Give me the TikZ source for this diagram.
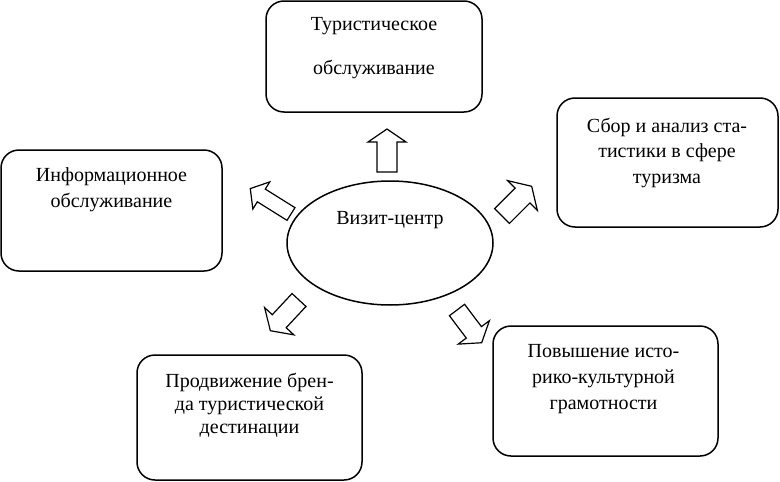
\documentclass[tikz,border=0pt]{standalone}
\usepackage{fontspec}
\setmainfont{Liberation Serif}
\usetikzlibrary{shapes.geometric}
\newcommand\blockarrow[6]{%
  \draw[blockline, shift={(#1,#2)}, rotate=#3]
    (0,{-#5}) -- ({#4-13},{-#5}) -- ({#4-13},{-#6}) -- (#4,0)
    -- ({#4-13},{#6}) -- ({#4-13},{#5}) -- (0,{#5}) -- cycle;}
\begin{document}
\begin{tikzpicture}[x=1pt,y=-1pt,
  box/.style={draw, line width=1.5pt, rounded corners=18pt, inner sep=0pt},
  oval/.style={draw, ellipse, line width=1.5pt, inner sep=0pt},
  blockline/.style={draw, line width=1.2pt, line join=miter, fill=white},
  txt/.style={align=center, font=\fontsize{20}{25.5}\selectfont, inner sep=0pt}]
\useasboundingbox (0,0) rectangle (780,482);
% boxes
\node[box, minimum width=216pt, minimum height=111pt] (tour) at (374,56.5) {};
\node[box, minimum width=221pt, minimum height=121pt] (info) at (111.5,210.5) {};
\node[box, minimum width=221pt, minimum height=129pt] (stat) at (667.5,162.5) {};
\node[box, minimum width=225pt, minimum height=125pt] (brand) at (249.5,417.5) {};
\node[box, minimum width=225pt, minimum height=130pt] (hist) at (605.5,391) {};
\node[oval, minimum width=206pt, minimum height=124pt] (vc) at (390,243) {};
% texts
\node[txt, font=\fontsize{20}{44}\selectfont] (tourtxt) at (374,48) {Туристическое\\обслуживание};
\node[txt, font=\fontsize{20}{26}\selectfont] (infotxt) at (111.5,190) {Информационное\\обслуживание};
\node[txt] (stattxt) at (667,152.5) {Сбор и анализ ста-\\тистики в сфере\\туризма};
\node[txt, font=\fontsize{20}{23}\selectfont] (brandtxt) at (249.5,405) {Продвижение брен-\\да туристической\\дестинации};
\node[txt, font=\fontsize{20}{26}\selectfont] (histtxt) at (603.5,379) {Повышение исто-\\рико-культурной\\грамотности};
\node[txt] (vctxt) at (390,220) {Визит-центр};
% block arrows
\blockarrow{387}{172}{90}{43}{10}{19}
\blockarrow{502}{216}{45}{42}{10.5}{21}
\blockarrow{291}{214}{148}{48}{7.5}{16}
\blockarrow{299}{300}{227}{42}{9.5}{20}
\blockarrow{457}{310}{307}{41}{9.5}{19.5}
\end{tikzpicture}
\end{document}
